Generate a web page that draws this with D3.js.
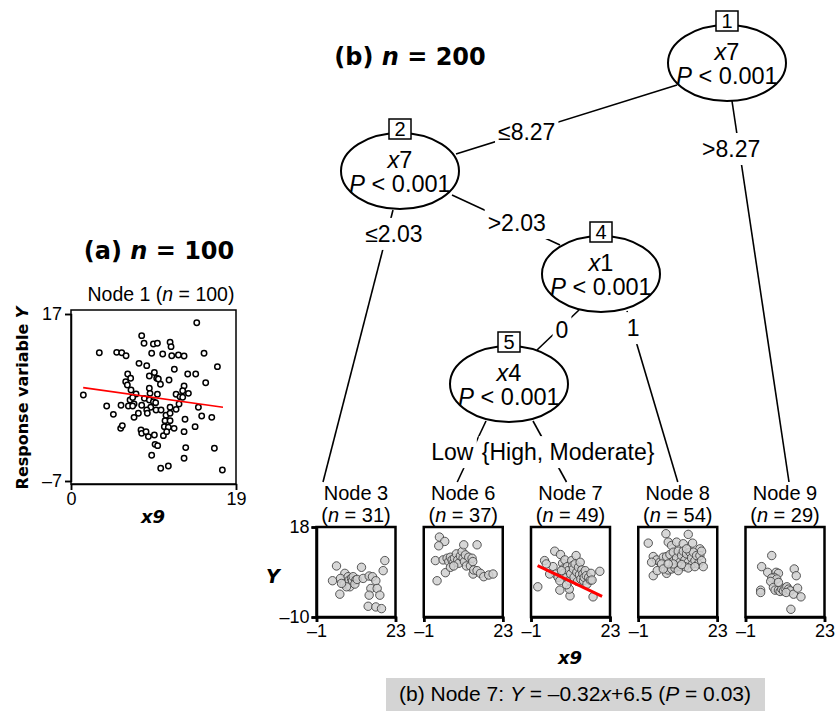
<!DOCTYPE html>
<html>
<head>
<meta charset="utf-8">
<script src="https://cdn.jsdelivr.net/npm/d3@7"></script>
<style>
  body { margin: 0; background: #fff; }
  text { font-family: "Liberation Sans", Arial, sans-serif; fill: #000; }
  .heavy { font-family: "DejaVu Sans", Verdana, sans-serif; font-weight: bold; }
</style>
</head>
<body>
<svg id="chart" width="835" height="711"></svg>
<script>
// ---------- data: panel (a), node 1 of the n = 100 tree ----------
var node1Pts = [
  [14.48,15.75],[8.14,13.89],[8.41,12.79],[9.49,12.69],[9.95,12.79],[11.41,12.93],[11.52,12.31],
  [3.26,11.44],[5.26,11.49],[5.84,11.44],[6.34,11.01],[9.29,11.35],[10.56,11.25],[11.60,11.01],
  [12.37,11.11],[13.02,10.97],[15.32,11.35],[7.83,9.91],[8.72,9.58],[16.86,9.43],[11.90,9.05],
  [6.53,8.38],[6.87,7.76],[6.30,7.28],[6.49,6.80],[9.02,8.09],[9.87,7.76],[10.06,7.66],[11.29,7.52],
  [13.44,8.38],[14.36,8.38],[15.51,7.13],[13.02,6.66],[12.86,5.98],[13.52,5.60],[6.91,6.08],
  [7.49,5.51],[9.02,6.32],[9.10,5.60],[9.95,5.46],[1.42,5.36],[12.10,5.46],[12.56,5.12],[12.86,5.03],
  [6.80,4.64],[7.26,4.07],[8.45,4.88],[9.02,4.64],[9.49,4.40],[9.75,4.26],[4.11,3.78],[5.76,3.88],
  [6.61,3.78],[7.10,3.78],[8.14,3.88],[9.18,3.59],[9.79,3.21],[10.37,3.21],[12.44,4.07],[11.41,3.59],
  [14.67,3.59],[4.88,2.58],[7.76,2.73],[7.26,2.15],[8.72,3.21],[8.79,2.73],[10.94,2.44],[11.41,2.73],
  [12.10,3.30],[13.13,1.87],[15.05,2.34],[16.21,2.15],[10.83,1.67],[11.41,1.67],[10.75,0.81],
  [11.21,0.72],[11.87,0.57],[5.72,0.57],[5.91,0.96],[8.06,0.33],[8.14,-0.15],[8.64,0.09],[8.91,-0.62],
  [9.60,-0.39],[10.64,-0.48],[11.02,0.09],[13.02,0.09],[14.29,0.81],[9.68,-1.73],[9.98,-1.92],
  [9.29,-3.31],[13.21,-2.20],[13.02,-3.74],[16.51,-2.30],[10.33,-5.17],[11.21,-4.84],[17.43,-5.41],
  [9.60,8.60],[10.30,6.90],[7.10,5.00]
];
var node1Fit = [6.67, -0.175];      // intercept, slope
var node1FitRange = [1.4, 17.5];
var node1XTicks = [0, 19];
var node1YTicks = [-7, 17];

// ---------- data: panel (b), n = 200 tree ----------
var splitNodes = [
  { id: 1, variable: "7", p: "< 0.001" },
  { id: 2, variable: "7", p: "< 0.001" },
  { id: 4, variable: "1", p: "< 0.001" },
  { id: 5, variable: "4", p: "< 0.001" }
];
var splits = [
  { from: 1, to: 2, label: "\u22648.27" },
  { from: 1, to: 9, label: ">8.27" },
  { from: 2, to: 3, label: "\u22642.03" },
  { from: 2, to: 4, label: ">2.03" },
  { from: 4, to: 5, label: "0" },
  { from: 4, to: 8, label: "1" },
  { from: 5, to: 6, label: "Low" },
  { from: 5, to: 7, label: "{High, Moderate}" }
];
var leafIds = [3, 6, 7, 8, 9];
var leafN = [31, 37, 49, 54, 29];

var node3Pts = [
  [5.08,5.88],[3.86,1.29],[7.61,3.58],[6.29,2.01],[6.09,-2.90],[7.41,0.24],[8.62,2.54],[8.92,1.49],
  [9.13,-0.60],[9.63,2.01],[9.94,1.28],[10.14,2.54],[10.95,1.49],[10.65,0.24],[11.35,1.70],[12.67,5.46],
  [13.18,2.01],[15.00,2.75],[15.51,-1.12],[15.00,-3.21],[16.01,2.54],[17.03,1.28],[17.43,-1.12],
  [18.24,-3.21],[19.76,7.55],[19.25,4.42],[14.70,-6.66],[17.03,-6.87],[18.75,-7.39],[8.11,-0.60],[6.60,0.45]
];
var node6Pts = [
  [3.76,14.87],[5.38,13.51],[3.56,12.15],[2.54,7.55],[3.05,1.28],[4.87,7.76],[6.09,8.28],[6.60,7.24],
  [7.10,8.60],[7.61,7.76],[7.91,6.72],[8.32,8.28],[8.92,9.64],[9.33,7.76],[9.63,6.72],[10.14,9.01],
  [10.65,10.37],[10.95,8.28],[11.15,12.46],[11.35,7.24],[11.66,9.33],[11.96,5.88],[12.67,8.60],
  [13.18,5.88],[13.68,8.28],[13.89,7.24],[13.99,3.37],[14.19,4.63],[15.20,12.46],[15.20,4.42],
  [16.22,3.58],[17.23,2.54],[18.75,3.06],[20.06,3.37],[5.58,3.79],[7.10,5.46],[8.11,5.88]
];
var node7Pts = [
  [1.06,-0.60],[3.12,7.55],[6.21,10.48],[7.96,9.43],[5.70,5.67],[6.52,3.37],[7.24,2.33],[7.76,1.28],
  [8.58,6.72],[8.79,4.94],[8.99,3.58],[9.30,7.76],[9.82,2.33],[10.02,5.67],[10.33,4.42],[10.64,1.28],
  [10.85,-3.42],[11.05,3.37],[11.36,7.55],[11.67,5.98],[11.88,4.94],[12.08,2.33],[12.39,6.51],
  [12.70,9.12],[12.91,3.90],[13.11,1.07],[13.42,5.46],[13.73,3.16],[13.94,7.03],[14.14,1.81],
  [14.45,4.63],[14.76,3.37],[14.97,1.28],[15.17,2.33],[15.48,4.42],[15.79,2.85],[16.00,0.24],
  [16.51,2.33],[17.03,1.49],[17.23,3.58],[17.54,1.49],[17.85,-3.73],[19.91,4.21],[7.76,-1.64],
  [10.64,-1.33],[4.67,3.37],[9.82,0.03],[8.27,4.42],[3.64,6.51]
];
var node8Pts = [
  [2.04,12.98],[7.41,15.91],[14.19,15.70],[8.11,13.30],[9.13,12.25],[10.65,13.30],[12.67,12.78],
  [15.51,12.98],[17.73,11.21],[3.56,8.81],[4.57,7.76],[3.05,7.03],[5.58,7.03],[6.60,8.60],[7.61,8.81],
  [8.62,9.43],[9.63,10.16],[9.84,7.55],[10.65,8.39],[11.15,10.48],[11.66,7.03],[12.17,9.12],
  [12.67,10.48],[13.18,7.76],[13.68,9.64],[14.19,7.03],[14.70,10.16],[15.20,8.39],[15.51,6.51],
  [15.71,10.16],[16.22,7.55],[16.72,9.12],[17.23,6.51],[17.73,9.12],[18.24,7.55],[18.75,5.67],
  [18.24,10.48],[3.56,2.85],[4.77,4.42],[6.09,6.51],[7.61,3.58],[8.11,4.63],[9.13,4.94],[10.14,5.25],
  [11.66,5.67],[13.18,5.67],[14.19,5.25],[9.63,6.51],[6.60,4.94],[11.15,4.42],[13.68,11.21],
  [12.17,6.30],[8.11,6.51],[16.22,5.67]
];
var node9Pts = [
  [6.97,9.12],[3.90,5.67],[5.74,3.90],[8.29,3.90],[9.01,3.58],[7.68,2.33],[6.97,2.12],[8.50,1.81],
  [6.66,1.07],[13.81,4.94],[14.42,2.85],[3.60,-1.64],[3.60,-2.37],[7.48,-0.81],[7.99,-1.64],
  [9.01,-1.64],[9.52,-2.06],[10.03,-1.33],[10.54,-1.85],[11.05,-1.02],[11.56,-0.60],[12.07,-1.33],
  [12.58,-1.85],[11.36,-2.37],[13.60,-2.90],[14.83,-1.02],[15.85,-3.73],[12.79,-7.60],[9.01,0.76]
];
var leafPts = [node3Pts, node6Pts, node7Pts, node8Pts, node9Pts];
var leafXTicks = [-1, 23];
var leafYTicks = [-10, 18];
var node7Fit = [6.5, -0.49];
var node7FitRange = [1.0, 20.6];
var captionParts = [["(b) Node 7: ", false], ["Y", true], [" = \u20130.32", false], ["x", true],
                    ["+6.5 (", false], ["P", true], [" = 0.03)", false]];

// ---------- drawing ----------
var svg = d3.select("#chart");
var fmt = function (d) { return d < 0 ? "\u2013" + Math.abs(d) : String(d); };

function styleAxis(g, size, width) {
  g.attr("font-family", null).attr("font-size", null);
  g.select(".domain").attr("stroke-width", width);
  g.selectAll(".tick line").attr("stroke-width", width);
  g.selectAll(".tick text").style("font-size", size + "px");
}

// panel (a)
svg.append("text").attr("class", "heavy").attr("x", 159).attr("y", 259)
  .attr("text-anchor", "middle").style("font-size", "24px")
  .html('(a) <tspan font-style="italic">n</tspan> = 100');

svg.append("text").attr("x", 161).attr("y", 301).attr("text-anchor", "middle")
  .style("font-size", "19.5px")
  .html('Node 1 (<tspan font-style="italic">n</tspan> = 100)');

var ax = d3.scaleLinear().domain([0, 19]).range([71, 236]);
var ay = d3.scaleLinear().domain([-7, 17]).range([481, 314]);

svg.append("rect").attr("x", 71).attr("y", 310).attr("width", 165).attr("height", 174)
  .attr("fill", "none").attr("stroke", "#000").attr("stroke-width", 1.5);

svg.append("g").attr("transform", "translate(71,0)")
  .call(d3.axisLeft(ay).tickValues(node1YTicks).tickFormat(fmt).tickSizeOuter(0).tickSize(6).tickPadding(3))
  .call(styleAxis, 18, 1.5);
svg.append("g").attr("transform", "translate(0,484)")
  .call(d3.axisBottom(ax).tickValues(node1XTicks).tickFormat(fmt).tickSizeOuter(0).tickSize(6).tickPadding(2))
  .call(styleAxis, 18, 1.5);

svg.append("g").selectAll("circle").data(node1Pts).enter().append("circle")
  .attr("cx", function (d) { return ax(d[0]); })
  .attr("cy", function (d) { return ay(d[1]); })
  .attr("r", 2.7).attr("fill", "#fff").attr("stroke", "#000").attr("stroke-width", 1.5);

svg.append("line")
  .attr("x1", ax(node1FitRange[0])).attr("y1", ay(node1Fit[0] + node1Fit[1] * node1FitRange[0]))
  .attr("x2", ax(node1FitRange[1])).attr("y2", ay(node1Fit[0] + node1Fit[1] * node1FitRange[1]))
  .attr("stroke", "#ff0000").attr("stroke-width", 1.6);

svg.append("text").attr("class", "heavy").attr("text-anchor", "middle")
  .attr("transform", "translate(28,398) rotate(-90)").style("font-size", "16px")
  .html('Response variable <tspan font-style="italic">Y</tspan>');

svg.append("text").attr("class", "heavy").attr("x", 153).attr("y", 523).attr("text-anchor", "middle")
  .style("font-size", "18px").style("font-style", "italic").text("x9");

// panel (b) title
svg.append("text").attr("class", "heavy").attr("x", 410).attr("y", 65)
  .attr("text-anchor", "middle").style("font-size", "24px")
  .html('(b) <tspan font-style="italic">n</tspan> = 200');

// tree layout
var nodePos = { 1: [727, 63], 2: [400, 171], 4: [601, 274], 5: [509, 384] };
var rx = 59, ry = 38;
var leafCx = d3.scalePoint().domain(leafIds).range([356, 785]);
var leafEndDx = { 3: -33, 6: -6, 7: -4, 8: 0, 9: 4 };
var startOff = { "1-2": [-50, 22], "1-9": [5, 38], "2-3": [-7, 39], "2-4": [52, 24],
                 "4-5": [-22, 36], "4-8": [26, 37], "5-6": [-23, 37], "5-7": [24, 37] };
var endOff = { 2: [56, -17], 4: [-41, -29], 5: [28, -34] };
var labelAt = { "1-2": [0.68, 0, 0], "1-9": [0.126, -8, 0], "2-3": [0.088, 7, 0], "2-4": [0.6, 0, -2],
                "4-5": [0.5, 4, 0], "4-8": [0.1, 1, 0], "5-6": [0.51, -19, 0], "5-7": [0.51, 18, 0] };

var edges = splits.map(function (s) {
  var key = s.from + "-" + s.to, p = nodePos[s.from], so = startOff[key];
  var a = [p[0] + so[0], p[1] + so[1]], b;
  if (nodePos[s.to]) b = [nodePos[s.to][0] + endOff[s.to][0], nodePos[s.to][1] + endOff[s.to][1]];
  else b = [leafCx(s.to) + leafEndDx[s.to], 482];
  var la = labelAt[key];
  return { a: a, b: b, label: s.label,
           lx: a[0] + (b[0] - a[0]) * la[0] + la[1], ly: a[1] + (b[1] - a[1]) * la[0] + la[2] };
});

var gE = svg.append("g");
gE.selectAll("line").data(edges).enter().append("line")
  .attr("x1", function (d) { return d.a[0]; }).attr("y1", function (d) { return d.a[1]; })
  .attr("x2", function (d) { return d.b[0]; }).attr("y2", function (d) { return d.b[1]; })
  .attr("stroke", "#000").attr("stroke-width", 1.6);

var lab = gE.selectAll("g.lab").data(edges).enter().append("g").attr("class", "lab");
lab.append("rect").attr("fill", "#fff");
lab.append("text").attr("x", function (d) { return d.lx; }).attr("y", function (d) { return d.ly + 8; })
  .attr("text-anchor", "middle").style("font-size", "23px").text(function (d) { return d.label; });
lab.each(function () {
  var bb = d3.select(this).select("text").node().getBBox();
  d3.select(this).select("rect").attr("x", bb.x - 3).attr("y", bb.y - 3)
    .attr("width", bb.width + 6).attr("height", bb.height + 6);
});

// inner nodes
var gN = svg.append("g").selectAll("g").data(splitNodes).enter().append("g")
  .attr("transform", function (d) { return "translate(" + nodePos[d.id] + ")"; });
gN.append("ellipse").attr("rx", rx).attr("ry", ry).attr("fill", "#fff")
  .attr("stroke", "#000").attr("stroke-width", 2);
gN.append("text").attr("y", -3).attr("text-anchor", "middle").style("font-size", "23.5px")
  .html(function (d) { return '<tspan font-style="italic">x</tspan>' + d.variable; });
gN.append("text").attr("y", 21).attr("text-anchor", "middle").style("font-size", "23.5px")
  .html(function (d) { return '<tspan font-style="italic">P</tspan> ' + d.p.replace("<", "&lt;"); });
gN.append("rect").attr("x", -11).attr("y", -ry - 14).attr("width", 22).attr("height", 20)
  .attr("fill", "#fff").attr("stroke", "#000").attr("stroke-width", 1.5);
gN.append("text").attr("y", -ry + 3).attr("text-anchor", "middle").style("font-size", "20px")
  .text(function (d) { return d.id; });

// leaves
var ly = d3.scaleLinear().domain([-10, 18]).range([617, 527]);
leafIds.forEach(function (id, i) {
  var cx = leafCx(id), left = cx - 39.5;
  var lx = d3.scaleLinear().domain([-1, 23]).range([left, left + 79]);
  var g = svg.append("g");
  g.append("text").attr("x", cx).attr("y", 500).attr("text-anchor", "middle")
    .style("font-size", "20px").text("Node " + id);
  g.append("text").attr("x", cx).attr("y", 522).attr("text-anchor", "middle")
    .style("font-size", "20px")
    .html('(<tspan font-style="italic">n</tspan> = ' + leafN[i] + ')');
  g.append("rect").attr("x", left).attr("y", 527).attr("width", 79).attr("height", 90)
    .attr("fill", "none").attr("stroke", "#000").attr("stroke-width", 2.5);
  g.append("g").attr("transform", "translate(0,617)")
    .call(d3.axisBottom(lx).tickValues(leafXTicks).tickFormat(fmt).tickSizeOuter(0).tickSize(5).tickPadding(2))
    .call(styleAxis, 18, 2.5);
  if (i === 0) {
    g.append("g").attr("transform", "translate(" + left + ",0)")
      .call(d3.axisLeft(ly).tickValues(leafYTicks).tickFormat(fmt).tickSizeOuter(0).tickSize(5).tickPadding(2))
      .call(styleAxis, 18, 2.5);
  }
  g.append("g").selectAll("circle").data(leafPts[i]).enter().append("circle")
    .attr("cx", function (d) { return lx(d[0]); })
    .attr("cy", function (d) { return ly(d[1]); })
    .attr("r", 4.2).attr("fill", "#d0d0d0").attr("fill-opacity", 0.85)
    .attr("stroke", "#444").attr("stroke-width", 0.9);
  if (id === 7) {
    g.append("line")
      .attr("x1", lx(node7FitRange[0])).attr("y1", ly(node7Fit[0] + node7Fit[1] * node7FitRange[0]))
      .attr("x2", lx(node7FitRange[1])).attr("y2", ly(node7Fit[0] + node7Fit[1] * node7FitRange[1]))
      .attr("stroke", "#ff0000").attr("stroke-width", 3);
  }
});

svg.append("text").attr("class", "heavy").attr("x", 273).attr("y", 583).attr("text-anchor", "middle")
  .style("font-size", "19px").style("font-style", "italic").text("Y");
svg.append("text").attr("class", "heavy").attr("x", 570).attr("y", 664).attr("text-anchor", "middle")
  .style("font-size", "18px").style("font-style", "italic").text("x9");

// caption
svg.append("rect").attr("x", 386).attr("y", 678).attr("width", 379).attr("height", 33).attr("fill", "#d4d4d4");
var cap = svg.append("text").attr("x", 575).attr("y", 701).attr("text-anchor", "middle").style("font-size", "21px");
captionParts.forEach(function (p) {
  cap.append("tspan").style("font-style", p[1] ? "italic" : null).text(p[0]);
});
</script>
</body>
</html>
